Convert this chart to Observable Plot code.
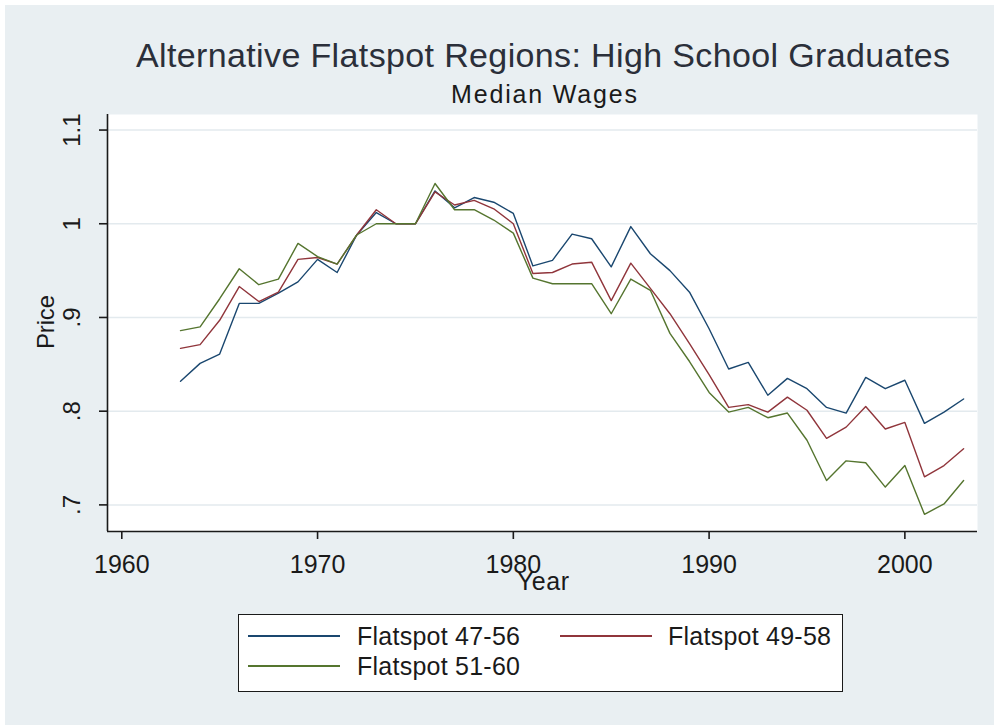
<!DOCTYPE html>
<html><head><meta charset="utf-8">
<script src="https://cdn.jsdelivr.net/npm/d3@7"></script>
<script src="https://cdn.jsdelivr.net/npm/@observablehq/plot@0.6"></script>
<style>
html,body{margin:0;padding:0;background:#fff;}
#wrap{position:relative;width:994px;height:725px;overflow:hidden;font-family:"Liberation Sans",Arial,sans-serif;color:#1a1a1a;}
#bg{position:absolute;left:5px;top:5px;right:0;bottom:0;background:#e9eff2;}
#chart{position:absolute;left:0;top:0;}
.t{position:absolute;white-space:nowrap;line-height:1em;}
#legend{position:absolute;left:238px;top:614px;width:603px;height:76px;background:#fff;border:1.5px solid #1a1a1a;}
.sw{position:absolute;height:0;border-top:2px solid;}
</style></head><body>
<div id="wrap"><div id="bg"></div><div id="chart"></div><div id="legend"></div></div>
<script>
const years = [1963,1964,1965,1966,1967,1968,1969,1970,1971,1972,1973,1974,1975,1976,1977,1978,1979,1980,1981,1982,1983,1984,1985,1986,1987,1988,1989,1990,1991,1992,1993,1994,1995,1996,1997,1998,1999,2000,2001,2002,2003];
const flat4756 = [.832,.851,.861,.915,.915,.926,.938,.962,.948,.988,1.012,1.000,1.000,1.035,1.017,1.028,1.023,1.011,.955,.961,.989,.984,.954,.997,.968,.950,.927,.888,.845,.852,.817,.835,.824,.804,.798,.836,.824,.833,.787,.799,.813];
const flat4958 = [.867,.871,.897,.933,.917,.927,.962,.964,.957,.988,1.015,1.000,1.000,1.034,1.020,1.025,1.016,1.000,.947,.948,.957,.959,.918,.958,.931,.904,.872,.839,.804,.807,.799,.815,.801,.771,.783,.805,.781,.788,.730,.742,.760];
const flat5160 = [.886,.890,.920,.952,.935,.941,.979,.965,.957,.988,1.000,1.000,1.000,1.043,1.015,1.015,1.004,.990,.942,.936,.936,.936,.904,.941,.929,.883,.853,.820,.799,.804,.793,.798,.769,.726,.747,.745,.719,.742,.690,.701,.726];
const seriesNames = ["Flatspot 47-56","Flatspot 49-58","Flatspot 51-60"];
const seriesColors = ["#1a476f","#90353b","#55752f"];
const xTicks = [1960,1970,1980,1990,2000];
const yTicks = [0.7,0.8,0.9,1.0,1.1];
const yTickLabels = [".7",".8",".9","1","1.1"];
const titleText = "Alternative Flatspot Regions: High School Graduates";
const subtitleText = "Median Wages";
const xLabel = "Year";
const yLabel = "Price";

const seriesValues = [flat4756, flat4958, flat5160];
const rows = seriesNames.flatMap((name, k) => years.map((yr, i) => ({year: yr, value: seriesValues[k][i], series: name})));

const chart = Plot.plot({
  width: 994, height: 725,
  marginLeft: 107, marginRight: 17, marginTop: 114, marginBottom: 194,
  x: {domain: [1959.27, 2003.71]},
  y: {domain: [0.6716, 1.1166]},
  style: {background: "transparent", fontFamily: "'Liberation Sans', Arial, sans-serif", fontSize: "24px", color: "#1a1a1a", overflow: "visible"},
  marks: [
    Plot.frame({fill: "white", stroke: null}),
    Plot.gridY(yTicks, {stroke: "#e3eaee", strokeOpacity: 1, strokeWidth: 1.5}),
    ...seriesNames.map((name, k) => Plot.line(rows.filter(r => r.series === name), {x: "year", y: "value", stroke: seriesColors[k], strokeWidth: 1.4})),
    Plot.axisX({ticks: xTicks, tickSize: 8, tickPadding: 16, tickFormat: d => String(d), fontSize: 25, strokeWidth: 1.6, label: null}),
    Plot.axisY({ticks: yTicks, tickSize: 8, tickPadding: 20, tickRotate: -90, tickFormat: d => yTickLabels[yTicks.indexOf(d)], fontSize: 24, strokeWidth: 1.6, label: null}),
    Plot.ruleX([1959.27], {stroke: "#1a1a1a", strokeWidth: 1.6}),
    Plot.ruleY([0.6716], {stroke: "#1a1a1a", strokeWidth: 1.6})
  ]
});
document.getElementById("chart").appendChild(chart);

const wrap = document.getElementById("wrap");
function place(parent, text, {x, base, size, width, color}) {
  const s = document.createElement("div");
  s.className = "t"; s.textContent = text; s.style.fontSize = size + "px";
  if (color) s.style.color = color;
  parent.appendChild(s);
  const w0 = s.getBoundingClientRect().width;
  if (width) s.style.letterSpacing = ((width - w0) / (text.length - 1)) + "px";
  s.style.left = x + "px";
  s.style.top = (base - 0.8465 * size) + "px";
  return s;
}
place(wrap, titleText, {x: 136, base: 67, size: 34, width: 814, color: "#2b2f3a"});
place(wrap, subtitleText, {x: 451, base: 103, size: 25, width: 186});
place(wrap, xLabel, {x: 517, base: 590, size: 25, width: 52});
// rotated y label
(function(){
  const s = document.createElement("div");
  s.className = "t"; s.textContent = yLabel; s.style.fontSize = "24px";
  wrap.appendChild(s);
  const w0 = s.getBoundingClientRect().width;
  const W = 54;
  s.style.letterSpacing = ((W - w0) / (yLabel.length - 1)) + "px";
  s.style.transformOrigin = "0 0";
  s.style.transform = "rotate(-90deg)";
  s.style.left = (54 - 0.8465 * 24) + "px";
  s.style.top = (322 + W / 2) + "px";
})();

// legend
const legend = document.getElementById("legend");
const legPos = [{sx: 9, tx: 118, row: 0}, {sx: 321, tx: 429, row: 0}, {sx: 9, tx: 118, row: 1}];
const legRowY = [21, 51];
seriesNames.forEach((name, k) => {
  const p = legPos[k];
  const sw = document.createElement("div");
  sw.className = "sw";
  sw.style.left = p.sx + "px"; sw.style.width = "92px";
  sw.style.top = (legRowY[p.row] - 1) + "px";
  sw.style.borderTopColor = seriesColors[k];
  legend.appendChild(sw);
  place(legend, name, {x: p.tx, base: legRowY[p.row] + 9, size: 25, width: 163});
});
</script>
</body></html>
